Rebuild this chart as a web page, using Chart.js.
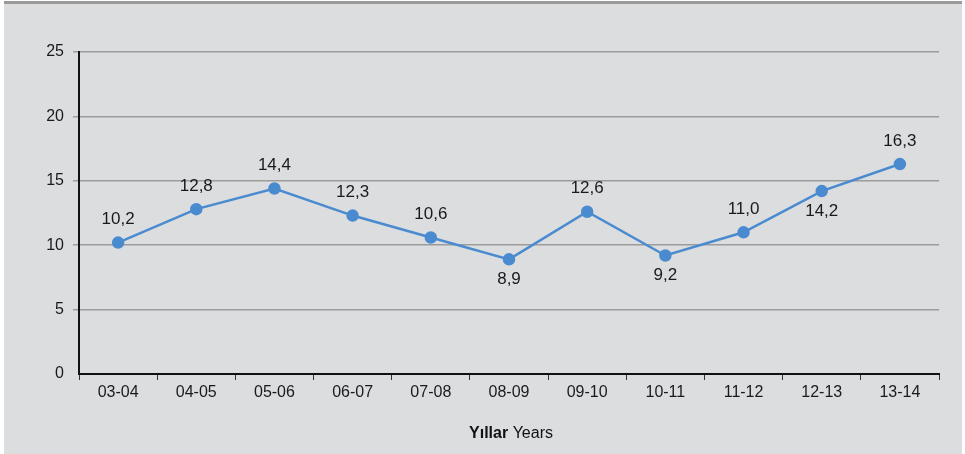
<!DOCTYPE html>
<html>
<head>
<meta charset="utf-8">
<script src="https://cdn.jsdelivr.net/npm/chart.js@4/dist/chart.umd.min.js"></script>
<style>
  html, body { margin: 0; padding: 0; background: #ffffff; }
  #wrap { position: relative; width: 965px; height: 454px; }
</style>
</head>
<body>
<div id="wrap"><canvas id="c" width="965" height="454"></canvas></div>
<script>
// School years and the plotted values
const years = ['03-04', '04-05', '05-06', '06-07', '07-08', '08-09', '09-10', '10-11', '11-12', '12-13', '13-14'];
const values = [10.2, 12.8, 14.4, 12.3, 10.6, 8.9, 12.6, 9.2, 11.0, 14.2, 16.3];
// Which value labels sit beneath their point
const labelBelow = [false, false, false, false, false, true, false, true, false, true, false];
const yTicks = [0, 5, 10, 15, 20, 25];

const FONT = '"Liberation Sans", Arial, sans-serif';
const LINE = '#4a8bd0';

// Panel background with a thin rule along the top
const panelBg = {
  id: 'panelBg',
  beforeDraw(chart) {
    const ctx = chart.ctx;
    ctx.save();
    ctx.fillStyle = '#dcdddf';
    ctx.fillRect(4, 2, 958, 452);
    ctx.fillStyle = '#9a9a9a';
    ctx.fillRect(4, 1, 958, 3);
    ctx.restore();
  }
};

// Value labels in Turkish decimal notation
const valueLabels = {
  id: 'valueLabels',
  afterDatasetsDraw(chart) {
    const ctx = chart.ctx;
    const meta = chart.getDatasetMeta(0);
    ctx.save();
    ctx.font = '17px ' + FONT;
    ctx.fillStyle = '#1a1a1a';
    ctx.textAlign = 'center';
    ctx.textBaseline = 'middle';
    meta.data.forEach((pt, i) => {
      const txt = values[i].toFixed(1).replace('.', ',');
      const y = labelBelow[i] ? pt.y + 20 : pt.y - 23;
      ctx.fillText(txt, pt.x, y);
    });
    ctx.restore();
  }
};

// Axis title: bold Turkish word followed by the English one
const axisTitle = {
  id: 'axisTitle',
  afterDraw(chart) {
    const ctx = chart.ctx;
    const xs = chart.scales.x;
    const cx = (xs.left + xs.right) / 2 + 2;
    const y = 434;
    ctx.save();
    ctx.textBaseline = 'middle';
    ctx.fillStyle = '#111111';
    const boldFont = 'bold 16px ' + FONT;
    const normFont = '16px ' + FONT;
    ctx.font = boldFont;
    const w1 = ctx.measureText('Yıllar').width;
    ctx.font = normFont;
    const w2 = ctx.measureText(' Years').width;
    const start = cx - (w1 + w2) / 2;
    ctx.font = boldFont;
    ctx.textAlign = 'left';
    ctx.fillText('Yıllar', start, y);
    ctx.font = normFont;
    ctx.fillText(' Years', start + w1, y);
    ctx.restore();
  }
};

new Chart(document.getElementById('c'), {
  type: 'line',
  data: {
    labels: years,
    datasets: [{
      data: values,
      borderColor: LINE,
      backgroundColor: LINE,
      borderWidth: 2.5,
      pointRadius: 5,
      pointHoverRadius: 5,
      pointBackgroundColor: LINE,
      pointBorderColor: LINE,
      tension: 0,
      clip: false
    }]
  },
  options: {
    responsive: false,
    animation: false,
    devicePixelRatio: 1,
    layout: { padding: { left: 0, right: 26, top: 52, bottom: 0 } },
    plugins: {
      legend: { display: false },
      tooltip: { enabled: false },
      title: { display: false }
    },
    scales: {
      x: {
        type: 'category',
        offset: true,
        afterFit(scale) { scale.height = 80; },
        border: { display: true, color: '#111111', width: 2 },
        grid: {
          offset: true,
          drawOnChartArea: false,
          drawTicks: true,
          tickLength: 6,
          color: '#333333',
          lineWidth: 1
        },
        ticks: {
          color: '#1a1a1a',
          font: { family: FONT, size: 16 },
          padding: 3,
          maxRotation: 0,
          autoSkip: false
        }
      },
      y: {
        min: 0,
        max: 25,
        afterFit(scale) { scale.width = 79; },
        afterBuildTicks(scale) { scale.ticks = yTicks.map(v => ({ value: v })); },
        border: { display: true, color: '#111111', width: 2 },
        grid: {
          color: (c) => c.tick && c.tick.value === 0 ? 'rgba(0,0,0,0)' : '#9c9c9c',
          lineWidth: 1.5,
          drawTicks: true,
          tickLength: 6
        },
        ticks: {
          color: '#1a1a1a',
          font: { family: FONT, size: 16 },
          padding: 9
        }
      }
    }
  },
  plugins: [panelBg, valueLabels, axisTitle]
});
</script>
</body>
</html>
